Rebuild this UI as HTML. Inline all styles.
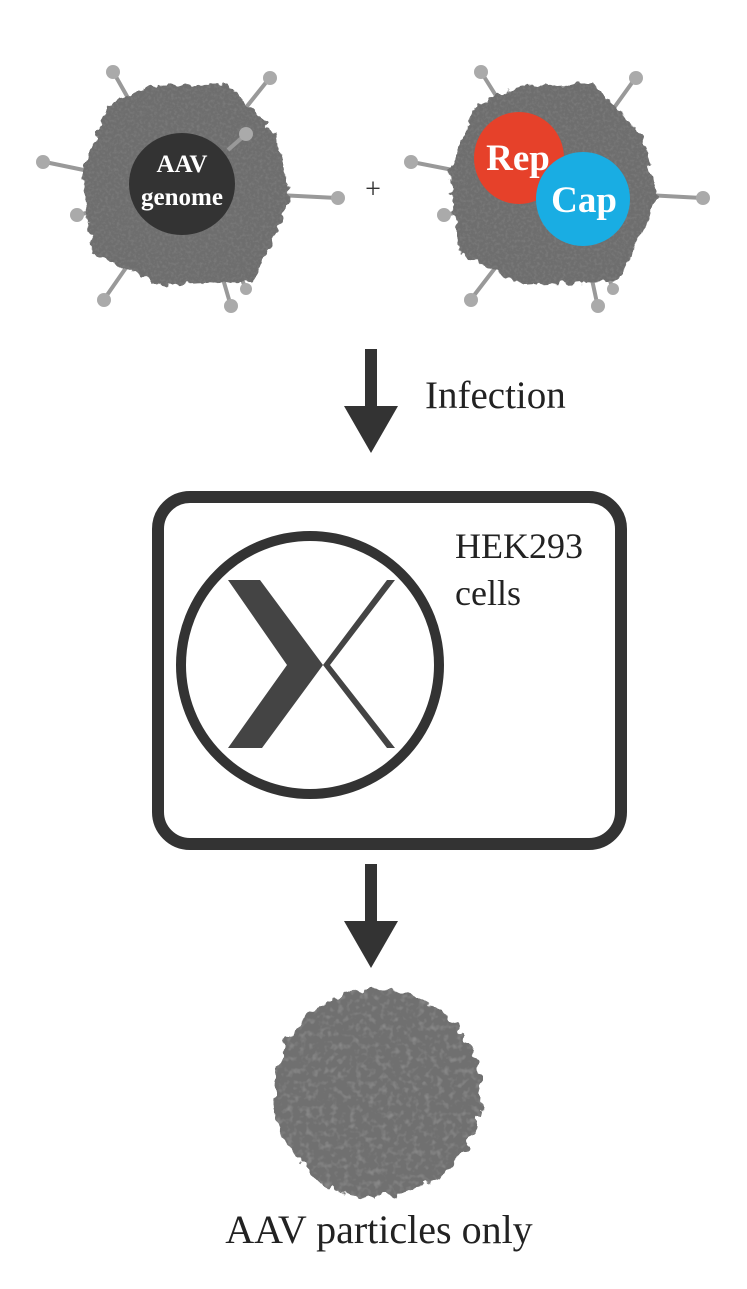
<!DOCTYPE html>
<html><head><meta charset="utf-8"><style>
html,body{margin:0;padding:0;background:#fff;}
svg{display:block}
</style></head><body>
<svg width="747" height="1289" viewBox="0 0 747 1289" xmlns="http://www.w3.org/2000/svg">
<defs>
<filter id="tex" x="-10%" y="-10%" width="120%" height="120%">
<feTurbulence type="fractalNoise" baseFrequency="0.12" numOctaves="2" seed="5" result="w"/>
<feDisplacementMap in="SourceGraphic" in2="w" scale="10" xChannelSelector="R" yChannelSelector="G" result="s"/>
<feTurbulence type="fractalNoise" baseFrequency="0.35" numOctaves="2" seed="3" result="n"/>
<feColorMatrix in="n" type="matrix" values="0 0 0 0 0.2  0 0 0 0 0.2  0 0 0 0 0.2  0 0 0 -2.2 1.25" result="d"/>
<feComposite in="d" in2="s" operator="in" result="dd"/>
<feMerge><feMergeNode in="s"/><feMergeNode in="dd"/></feMerge>
</filter>
<filter id="tex2" x="-10%" y="-10%" width="120%" height="120%">
<feTurbulence type="fractalNoise" baseFrequency="0.09" numOctaves="2" seed="9" result="w"/>
<feDisplacementMap in="SourceGraphic" in2="w" scale="16" xChannelSelector="R" yChannelSelector="G" result="s"/>
<feTurbulence type="fractalNoise" baseFrequency="0.16" numOctaves="2" seed="7" result="n"/>
<feColorMatrix in="n" type="matrix" values="0 0 0 0 0.25  0 0 0 0 0.25  0 0 0 0 0.25  0 0 0 -2.5 1.3" result="d"/>
<feComposite in="d" in2="s" operator="in" result="dd"/>
<feMerge><feMergeNode in="s"/><feMergeNode in="dd"/></feMerge>
</filter>
</defs>

<!-- left virus spikes -->
<g stroke="#999" stroke-width="4" fill="#aaa">
<line x1="180" y1="190" x2="115" y2="75"/><circle cx="113" cy="72" r="7" stroke="none"/>
<line x1="180" y1="190" x2="268" y2="80"/><circle cx="270" cy="78" r="7" stroke="none"/>
<line x1="160" y1="130" x2="150" y2="115"/><circle cx="149" cy="114" r="6" stroke="none"/>
<line x1="180" y1="190" x2="45" y2="162"/><circle cx="43" cy="162" r="7" stroke="none"/>
<line x1="180" y1="190" x2="78" y2="215"/><circle cx="77" cy="215" r="7" stroke="none"/>
<line x1="180" y1="190" x2="337" y2="198"/><circle cx="338" cy="198" r="7" stroke="none"/>
<line x1="180" y1="190" x2="105" y2="298"/><circle cx="104" cy="300" r="7" stroke="none"/>
<line x1="200" y1="200" x2="230" y2="303"/><circle cx="231" cy="306" r="7" stroke="none"/>
<line x1="210" y1="200" x2="245" y2="287"/><circle cx="246" cy="289" r="6" stroke="none"/>
</g>
<polygon points="150,90 225,86 275,138 287,200 252,278 160,282 95,252 85,170 110,108" fill="#6e6e6e" filter="url(#tex)" stroke="#6e6e6e" stroke-width="6" stroke-linejoin="round"/>
<g stroke="#999" stroke-width="4" fill="#aaa"><line x1="228" y1="150" x2="245" y2="135"/><circle cx="246" cy="134" r="7" stroke="none"/></g>
<ellipse cx="182" cy="184" rx="53" ry="51" fill="#333"/>
<text x="182" y="172" text-anchor="middle" font-family="Liberation Serif,serif" font-weight="bold" font-size="25" fill="#fff">AAV</text>
<text x="182" y="205" text-anchor="middle" font-family="Liberation Serif,serif" font-weight="bold" font-size="25" fill="#fff">genome</text>

<text x="373" y="198" text-anchor="middle" font-family="Liberation Serif,serif" font-size="28" fill="#333">+</text>

<!-- right virus -->
<g stroke="#999" stroke-width="4" fill="#aaa">
<line x1="555" y1="190" x2="483" y2="75"/><circle cx="481" cy="72" r="7" stroke="none"/>
<line x1="555" y1="190" x2="634" y2="80"/><circle cx="636" cy="78" r="7" stroke="none"/>
<line x1="525" y1="130" x2="516" y2="115"/><circle cx="516" cy="114" r="6" stroke="none"/>
<line x1="555" y1="190" x2="412" y2="162"/><circle cx="411" cy="162" r="7" stroke="none"/>
<line x1="555" y1="190" x2="445" y2="215"/><circle cx="444" cy="215" r="7" stroke="none"/>
<line x1="555" y1="190" x2="702" y2="198"/><circle cx="703" cy="198" r="7" stroke="none"/>
<line x1="555" y1="190" x2="472" y2="298"/><circle cx="471" cy="300" r="7" stroke="none"/>
<line x1="575" y1="200" x2="597" y2="303"/><circle cx="598" cy="306" r="7" stroke="none"/>
<line x1="585" y1="200" x2="612" y2="287"/><circle cx="613" cy="289" r="6" stroke="none"/>
</g>
<polygon points="518,90 592,86 640,138 654,200 617,278 525,282 462,252 452,170 478,108" fill="#6e6e6e" filter="url(#tex)" stroke="#6e6e6e" stroke-width="6" stroke-linejoin="round"/>
<ellipse cx="519" cy="158" rx="45" ry="46" fill="#e6412a"/>
<text x="518" y="170" text-anchor="middle" font-family="Liberation Serif,serif" font-weight="bold" font-size="37" fill="#fff">Rep</text>
<ellipse cx="583" cy="199" rx="47" ry="47" fill="#19ade3"/>
<text x="584" y="212" text-anchor="middle" font-family="Liberation Serif,serif" font-weight="bold" font-size="37" fill="#fff">Cap</text>

<!-- arrow 1 -->
<rect x="365" y="349" width="12" height="60" fill="#333"/>
<polygon points="344,406 398,406 371,453" fill="#333"/>
<text x="425" y="408" font-family="Liberation Serif,serif" font-size="39" fill="#222">Infection</text>

<!-- box -->
<rect x="158" y="497" width="463" height="347" rx="32" fill="none" stroke="#333" stroke-width="12"/>
<circle cx="310" cy="665" r="129" fill="none" stroke="#333" stroke-width="10"/>
<polygon points="228,580 260,580 323,665 262,748 228,748 287,665" fill="#444"/>
<polygon points="387,580 395,580 330,665 395,748 387,748 323,665" fill="#444"/>
<text x="455" y="558" font-family="Liberation Serif,serif" font-size="36" fill="#222">HEK293</text>
<text x="455" y="605" font-family="Liberation Serif,serif" font-size="36" fill="#222">cells</text>

<!-- arrow 2 -->
<rect x="365" y="864" width="12" height="60" fill="#333"/>
<polygon points="344,921 398,921 371,968" fill="#333"/>

<!-- particle -->
<circle cx="377" cy="1093" r="104" fill="#6f6f6f" filter="url(#tex2)"/>
<text x="379" y="1243" text-anchor="middle" font-family="Liberation Serif,serif" font-size="40" fill="#222">AAV particles only</text>
</svg>
</body></html>
